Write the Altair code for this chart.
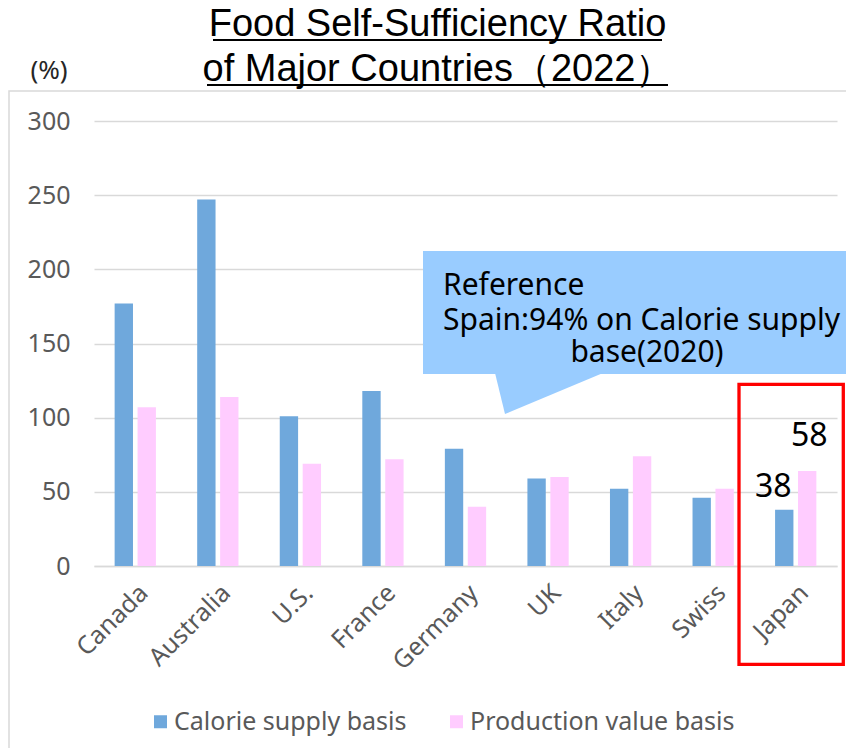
import altair as alt
import pandas as pd

countries = ["Canada", "Australia", "U.S.", "France", "Germany", "UK", "Italy", "Swiss", "Japan"]
series_names = ["Calorie supply basis", "Production value basis"]
calorie = [177, 247, 101, 118, 79, 59, 52, 46, 38]
production = [107, 114, 69, 72, 40, 60, 74, 52, 64]
japan_labels = ["38", "58"]
colors = ["#6FA8DC", "#FFCCFF"]
y_ticks = [0, 50, 100, 150, 200, 250, 300]
title_lines = ["Food Self-Sufficiency Ratio", "of Major Countries（2022）"]
note_lines = ["Reference", "Spain:94% on Calorie supply", "base(2020)"]

rows = []
for i, c in enumerate(countries):
    rows.append({"country": c, "series": series_names[0], "value": calorie[i]})
    rows.append({"country": c, "series": series_names[1], "value": production[i]})
df = pd.DataFrame(rows)
df["label"] = ""
df.loc[(df.country == "Japan") & (df.series == series_names[0]), "label"] = japan_labels[0]
df.loc[(df.country == "Japan") & (df.series == series_names[1]), "label"] = japan_labels[1]

one = pd.DataFrame({"a": [0]})
FONT = "Noto Sans"

x_enc = alt.X("country:N", sort=countries, title=None,
              scale=alt.Scale(paddingInner=0.5, paddingOuter=0.25),
              axis=alt.Axis(labelAngle=-45, labelFontSize=25, labelFont=FONT,
                            labelColor="#595959", labelPadding=14, ticks=False,
                            domain=True, domainColor="#d9d9d9", domainWidth=1.5,
                            grid=False))
y_enc = alt.Y("value:Q", title=None,
              scale=alt.Scale(domain=[0, 300], nice=False),
              axis=alt.Axis(values=y_ticks, labelFontSize=25, labelFont=FONT,
                            labelColor="#595959", labelPadding=24, ticks=False,
                            domain=False, grid=True, gridColor="#d9d9d9",
                            gridWidth=1.5))
xoff = alt.XOffset("series:N", sort=series_names,
                   scale=alt.Scale(paddingInner=0.2, paddingOuter=0))

frame = alt.Chart(one).mark_rect(fill=None, stroke="#d9d9d9", strokeWidth=1.5).encode(
    x=alt.value(-85), x2=alt.value(758), y=alt.value(-30), y2=alt.value(700))

bars = alt.Chart(df).mark_bar().encode(
    x=x_enc, xOffset=xoff, y=y_enc,
    color=alt.Color("series:N", sort=series_names,
                    scale=alt.Scale(domain=series_names, range=colors),
                    legend=alt.Legend(title=None, orient="none", direction="horizontal",
                                      legendX=54, legendY=588, symbolType="square",
                                      symbolSize=169, symbolStrokeWidth=0,
                                      labelFontSize=25, labelFont=FONT,
                                      labelColor="#595959", columnPadding=37,
                                      labelOffset=1, padding=0, labelLimit=0)))

lab38 = alt.Chart(df).transform_filter(
    (alt.datum.country == "Japan") & (alt.datum.series == series_names[0])
).mark_text(font=FONT, fontSize=32, color="black", dx=-11, dy=-13,
            baseline="alphabetic", align="center").encode(
    x=alt.X("country:N", sort=countries), xOffset=xoff, y="value:Q", text="label:N")
lab58 = alt.Chart(df).transform_filter(
    (alt.datum.country == "Japan") & (alt.datum.series == series_names[1])
).mark_text(font=FONT, fontSize=32, color="black", dx=2, dy=-25,
            baseline="alphabetic", align="center").encode(
    x=alt.X("country:N", sort=countries), xOffset=xoff, y="value:Q", text="label:N")

callout = alt.Chart(one).mark_rect(color="#99CCFF").encode(
    x=alt.value(329), x2=alt.value(770), y=alt.value(130), y2=alt.value(253))
tri_df = pd.DataFrame({"px": [401, 411, 509], "py": [252, 252, 252], "py2": [252, 293, 252]})
pointer = alt.Chart(tri_df).mark_area(color="#99CCFF").encode(
    x=alt.X("px:Q", scale=None, axis=None),
    y=alt.Y("py:Q", scale=None, axis=None),
    y2="py2:Q")
note1 = alt.Chart(one).mark_text(text=note_lines[0], font=FONT, fontSize=30, color="black",
                                 align="left", baseline="alphabetic").encode(
    x=alt.value(349), y=alt.value(174))
note2 = alt.Chart(one).mark_text(text=note_lines[1], font=FONT, fontSize=30, color="black",
                                 align="left", baseline="alphabetic").encode(
    x=alt.value(349), y=alt.value(209))
note3 = alt.Chart(one).mark_text(text=note_lines[2], font=FONT, fontSize=30, color="black",
                                 align="center", baseline="alphabetic").encode(
    x=alt.value(553), y=alt.value(241))

redbox = alt.Chart(one).mark_rect(fill=None, stroke="#FF0000", strokeWidth=3.3).encode(
    x=alt.value(645), x2=alt.value(749.3), y=alt.value(263.4), y2=alt.value(543.3))

t1 = alt.Chart(one).mark_text(text=title_lines[0], font="Liberation Sans", fontSize=38,
                              color="black", align="center", baseline="alphabetic").encode(
    x=alt.value(343.5), y=alt.value(-85))
t2 = alt.Chart(one).mark_text(text=title_lines[1], font="Liberation Sans", fontSize=38,
                              color="black", align="center", baseline="alphabetic").encode(
    x=alt.value(344), y=alt.value(-40))
u1 = alt.Chart(one).mark_rule(color="black", strokeWidth=2).encode(
    x=alt.value(119), x2=alt.value(568), y=alt.value(-81))
u2 = alt.Chart(one).mark_rule(color="black", strokeWidth=2).encode(
    x=alt.value(113), x2=alt.value(574), y=alt.value(-36))
pct = alt.Chart(one).mark_text(text="(%)", font=FONT, fontSize=26, color="#262626",
                               align="center", baseline="middle").encode(
    x=alt.value(-45), y=alt.value(-50))

main = alt.layer(frame, bars, lab38, lab58, callout, note1, note2, note3, redbox,
                 t1, t2, u1, u2, pct)

chart = alt.layer(main, pointer).resolve_scale(x="independent", y="independent").properties(
    width=743, height=445,
    padding={"left": 86, "top": 113, "right": 9, "bottom": 182},
    autosize=alt.AutoSizeParams(type="none"),
    background="white",
).configure_view(stroke=None)

chart.save("out.html", embed_options={"renderer": "svg", "actions": False})
